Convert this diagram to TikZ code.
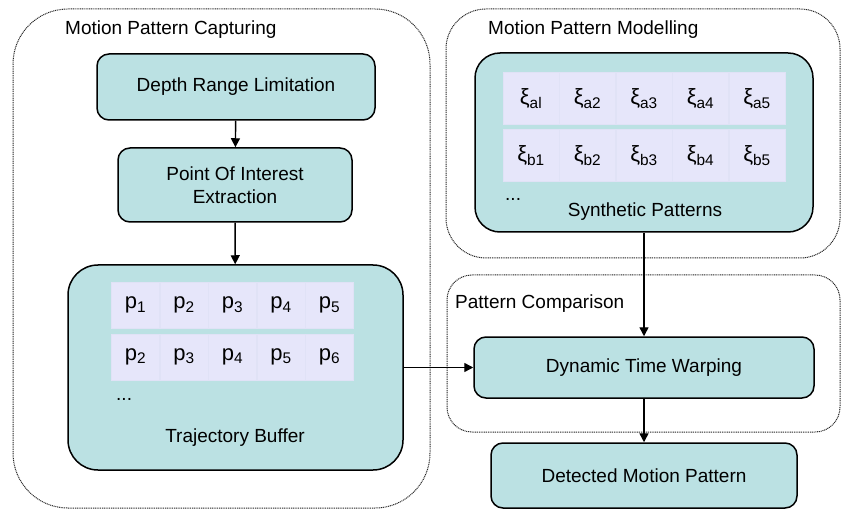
\documentclass[tikz,border=0pt]{standalone}
\usepackage{fontspec}
\setmainfont{Liberation Sans}
\usetikzlibrary{arrows.meta}

\definecolor{boxfill}{RGB}{187,225,227}
\definecolor{cellfill}{RGB}{230,230,250}
\definecolor{cellline}{RGB}{224,226,246}

\tikzset{
  stage/.style={draw,line width=1.5pt,fill=boxfill,rounded corners=12pt,align=center},
  frame/.style={draw=black!85,line width=1pt,dash pattern=on 1pt off 0.8pt},
  cell/.style={fill=cellfill,draw=cellline,line width=0.5pt,inner sep=0pt,font=\fontsize{22}{26}\selectfont},
  flow/.style={-{Triangle[length=9pt,width=9pt]},line width=1.4pt}
}

\begin{document}
\begin{tikzpicture}[x=1pt,y=-1pt]
      \fontsize{19}{23}\selectfont
      \useasboundingbox (0,0) rectangle (842,510);
      % dotted frames
      \draw[frame,rounded corners=55pt] (13,9) rectangle (430,508);
      \draw[frame,rounded corners=40pt] (446,9) rectangle (840,258);
      \draw[frame,rounded corners=25pt] (447,275) rectangle (840,432);
      \node[anchor=base west,inner sep=0pt] (capt) at (65,35) {Motion Pattern Capturing};
      \node[anchor=base west,inner sep=0pt] (modt) at (488,35) {Motion Pattern Modelling};
      \node[anchor=base west,inner sep=0pt] (cmpt) at (455,308) {Pattern Comparison};

      % capturing
      \node[stage,minimum width=278pt,minimum height=66pt] (depth) at (236,87) {Depth Range Limitation};
      \node[stage,minimum width=234pt,minimum height=74pt] (poi) at (235,185) {Point Of Interest\\Extraction};
      \node[stage,rounded corners=30pt,minimum width=335pt,minimum height=205pt] (traj) at (235.5,367.5) {};
      \matrix (pbuf) at (232.5,331) [row sep=5pt,column sep=0pt,nodes={cell,minimum width=48pt,minimum height=46pt}] {
        \node {p\textsubscript{1}}; & \node {p\textsubscript{2}}; & \node {p\textsubscript{3}}; & \node {p\textsubscript{4}}; & \node {p\textsubscript{5}}; \\
        \node {p\textsubscript{2}}; & \node {p\textsubscript{3}}; & \node {p\textsubscript{4}}; & \node {p\textsubscript{5}}; & \node {p\textsubscript{6}}; \\
      };
      \node[anchor=base west,inner sep=0pt] (pdots) at (116,400) {...};
      \node[anchor=base,inner sep=0pt] (trajt) at (235,442) {Trajectory Buffer};

      % modelling
      \node[stage,rounded corners=25pt,minimum width=338pt,minimum height=179pt] (synth) at (644,142.5) {};
      \matrix (xbuf) at (644,127) [row sep=4pt,column sep=0pt,nodes={cell,minimum width=56pt,minimum height=52pt}] {
        \node {ξ\textsubscript{al}}; & \node {ξ\textsubscript{a2}}; & \node {ξ\textsubscript{a3}}; & \node {ξ\textsubscript{a4}}; & \node {ξ\textsubscript{a5}}; \\
        \node {ξ\textsubscript{b1}}; & \node {ξ\textsubscript{b2}}; & \node {ξ\textsubscript{b3}}; & \node {ξ\textsubscript{b4}}; & \node {ξ\textsubscript{b5}}; \\
      };
      \node[anchor=base west,inner sep=0pt] (xdots) at (505,201) {...};
      \node[anchor=base,inner sep=0pt] (syntht) at (645,217) {Synthetic Patterns};

      % comparison
      \node[stage,minimum width=340pt,minimum height=61pt] (dtw) at (644,367.5) {Dynamic Time Warping};
      \node[stage,minimum width=306pt,minimum height=65pt] (detect) at (644,475.5) {Detected Motion Pattern};

      \draw[flow] (depth) -- (poi);
      \draw[flow] (poi) -- (traj);
      \draw[flow] (traj) -- (dtw);
      \draw[flow] (synth) -- (dtw);
      \draw[flow] (dtw) -- (detect);
  \end{tikzpicture}
\end{document}
